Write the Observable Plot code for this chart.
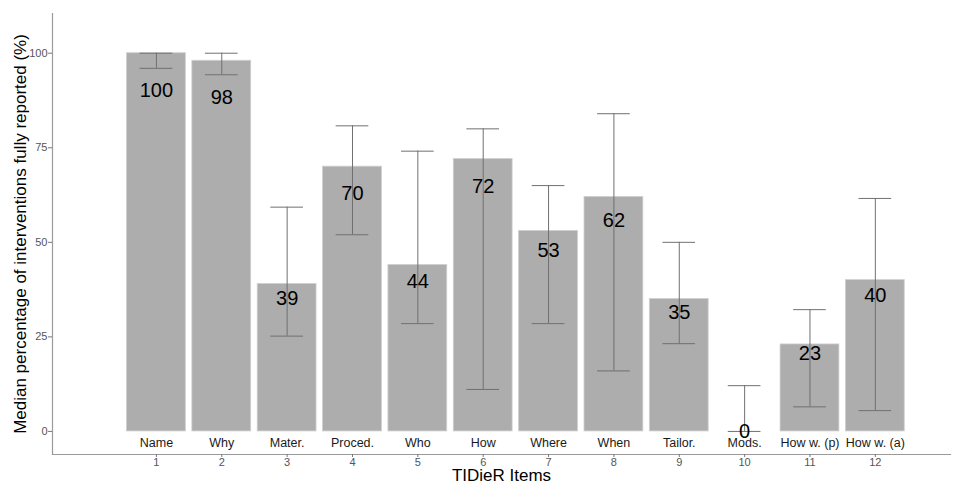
<!DOCTYPE html>
<html>
<head>
<meta charset="utf-8">
<script src="https://cdn.jsdelivr.net/npm/d3@7"></script>
<script src="https://cdn.jsdelivr.net/npm/@observablehq/plot@0.6"></script>
<style>
  html, body { margin: 0; padding: 0; background: #fff; }
  #chart svg { font-family: "Liberation Sans", Arial, Helvetica, sans-serif; display: block; }
</style>
</head>
<body>
<div id="chart"></div>
<script>
// Data
const items = [1, 2, 3, 4, 5, 6, 7, 8, 9, 10, 11, 12];
const itemNames = ["Name", "Why", "Mater.", "Proced.", "Who", "How", "Where", "When", "Tailor.", "Mods.", "How w. (p)", "How w. (a)"];
const medians = [100, 98, 39, 70, 44, 72, 53, 62, 35, 0, 23, 40];
const lower = [96, 94.3, 25.2, 52, 28.5, 11.1, 28.5, 16, 23.2, 0, 6.5, 5.5];
const upper = [100, 100, 59.3, 80.8, 74.1, 80, 65, 84, 50, 12.1, 32.2, 61.6];

const data = items.map((item, i) => ({
  item,
  name: itemNames[i],
  value: medians[i],
  lo: lower[i],
  hi: upper[i]
}));

const barHalf = 0.45;
const capHalf = 0.25;

const chart = Plot.plot({
  width: 954,
  height: 484,
  marginLeft: 52,
  marginRight: 4,
  marginTop: 13,
  marginBottom: 30,
  style: { fontFamily: "'Liberation Sans', Arial, Helvetica, sans-serif", background: "#fff" },
  x: { type: "linear", domain: [-0.59, 13.15] },
  y: { domain: [-6.1, 110.5] },
  marks: [
    Plot.rectY(data, {
      x1: d => d.item - barHalf,
      x2: d => d.item + barHalf,
      y1: 0,
      y2: "value",
      fill: "#adadad",
      stroke: "#cfcfcf",
      strokeWidth: 0.8
    }),
    Plot.ruleX(data, { x: "item", y1: "lo", y2: "hi", stroke: "#707070", strokeWidth: 1 }),
    Plot.ruleY(data, { y: "lo", x1: d => d.item - capHalf, x2: d => d.item + capHalf, stroke: "#707070", strokeWidth: 1 }),
    Plot.ruleY(data, { y: "hi", x1: d => d.item - capHalf, x2: d => d.item + capHalf, stroke: "#707070", strokeWidth: 1 }),
    Plot.text(data, {
      x: "item",
      y: d => d.value * 0.9,
      text: d => String(d.value),
      fontSize: 20,
      fill: "#000"
    }),
    Plot.text(data, {
      x: "item",
      text: "name",
      frameAnchor: "bottom",
      dy: -8,
      fontSize: 12.5,
      fill: "#1a1a1a"
    }),
    Plot.frame({ anchor: "left", stroke: "#9a9a9a", strokeWidth: 1.2 }),
    Plot.frame({ anchor: "bottom", stroke: "#9a9a9a", strokeWidth: 1.2 }),
    Plot.axisY({
      ticks: [0, 25, 50, 75, 100],
      tickSize: 4,
      tickPadding: 1,
      fontSize: 11,
      color: "#555",
      stroke: "#777",
      label: null
    }),
    Plot.axisY({
      ticks: [],
      label: "Median percentage of interventions fully reported (%)",
      labelAnchor: "center",
      labelArrow: "none",
      labelOffset: 39,
      fontSize: 17,
      fill: "#000"
    }),
    Plot.axisX({
      ticks: items,
      tickFormat: d => String(d),
      tickSize: 3,
      tickPadding: 1,
      fontSize: 11,
      color: "#555",
      stroke: "#777",
      label: null
    }),
    Plot.axisX({
      ticks: [],
      label: "TIDieR Items",
      labelAnchor: "center",
      labelArrow: "none",
      labelOffset: 26,
      fontSize: 17,
      fill: "#000"
    })
  ]
});

document.getElementById("chart").appendChild(chart);
</script>
</body>
</html>
